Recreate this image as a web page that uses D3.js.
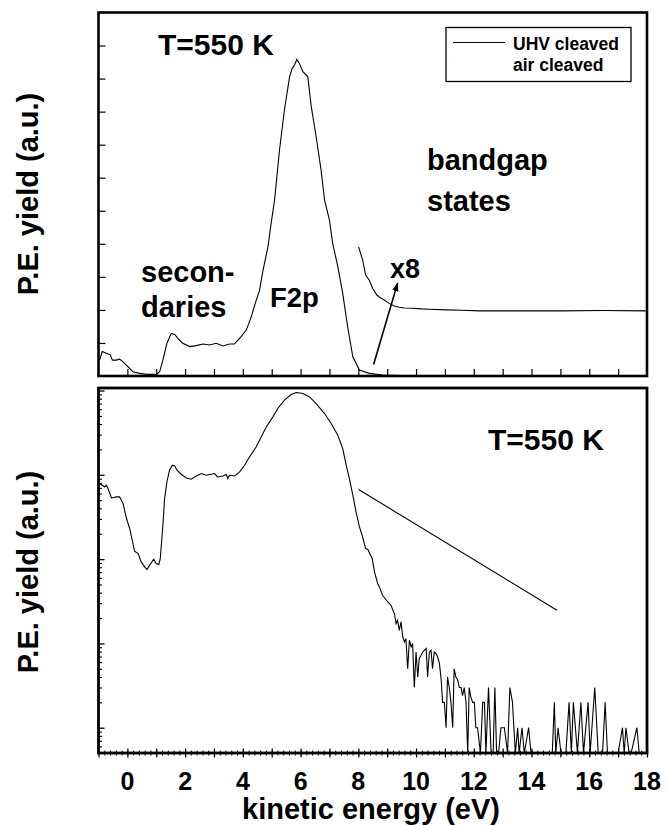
<!DOCTYPE html>
<html>
<head>
<meta charset="utf-8">
<script src="https://cdn.jsdelivr.net/npm/d3@7"></script>
<style>
html,body{margin:0;padding:0;background:#fff;}
svg{display:block;font-family:"Liberation Sans",Arial,Helvetica,sans-serif;}
text{font-weight:bold;fill:#000;}
</style>
</head>
<body>
<svg id="chart" width="667" height="825"></svg>
<script>
// ---------- DATA ----------
// Top panel (linear, arbitrary units): UHV cleaved spectrum
const topEnergy = [-0.96,-0.87,-0.73,-0.59,-0.52,-0.38,-0.27,-0.15,0.02,0.19,0.43,0.66,1.00,1.12,1.23,1.37,1.52,1.64,1.75,1.92,2.16,2.39,2.62,2.85,3.08,3.31,3.54,3.71,3.94,4.12,4.29,4.43,4.58,4.69,4.87,4.98,5.10,5.27,5.44,5.62,5.71,5.79,5.87,5.96,6.08,6.25,6.37,6.54,6.71,6.83,7.00,7.11,7.29,7.46,7.63,7.81,8.04,8.38,8.84,9.5,10,12,14,16,18];
const topYield  = [0.48,0.74,0.69,0.64,0.48,0.48,0.51,0.43,0.28,0.13,0.08,0.05,0.05,0.13,0.48,0.99,1.29,1.26,1.14,0.99,0.89,0.92,0.97,0.94,0.99,0.91,0.97,0.97,1.19,1.39,1.79,2.20,2.60,3.16,3.91,4.62,5.33,6.84,8.05,9.06,9.31,9.41,9.58,9.46,9.21,9.06,8.15,7.24,6.23,5.33,4.72,4.02,3.31,2.50,1.49,0.58,0.18,0.08,0.03,0.01,0,0,0,0,0];
// Top panel: bandgap-state region magnified x8 (offset baseline)
const gapEnergy = [8.01,8.15,8.25,8.38,8.50,8.64,8.79,8.90,9.08,9.25,9.42,9.60,9.88,10.2,10.46,11.04,11.6,12.19,13.5,15,16.5,17.96];
const gapYield  = [3.91,3.51,3.06,2.90,2.65,2.45,2.35,2.30,2.19,2.12,2.08,2.06,2.05,2.03,2.02,2.00,1.99,1.97,1.97,1.97,1.98,1.97];
// Arrow pointing from main curve to x8 curve  [energy, yield]
const arrowFrom = [8.53, 0.35];
const arrowTo   = [9.36, 2.81];

// Bottom panel (log): air cleaved spectrum, counts (0 = below axis)
const botEnergy = [-0.96,-0.87,-0.79,-0.73,-0.67,-0.55,-0.38,-0.27,-0.15,-0.03,0.08,0.25,0.37,0.48,0.60,0.68,0.77,0.91,1.00,1.09,1.14,1.23,1.29,1.37,1.46,1.56,1.64,1.72,1.87,2.04,2.21,2.39,2.56,2.73,3.02,3.13,3.31,3.43,3.48,3.54,3.71,3.89,4.06,4.23,4.46,4.64,4.81,5.04,5.21,5.44,5.67,5.85,6.08,6.31,6.54,6.83,7.06,7.29,7.46,7.58,7.69,7.81,7.92,8.04,8.15,8.25,8.33,8.48,8.56,8.67,8.73,8.84,9.02,9.13,9.25,9.31,9.36,9.42,9.48,9.54,9.60,9.65,9.71,9.77,9.83,9.88,9.94,10.00,10.06,10.11,10.17,10.23,10.29,10.35,10.40,10.46,10.52,10.57,10.63,10.69,10.75,10.81,10.87,10.92,10.98,11.04,11.09,11.15,11.21,11.27,11.32,11.38,11.44,11.50,11.56,11.61,11.67,11.73,11.79,11.84,11.90,11.96,12.02,12.07,12.13,12.23,12.31,12.37,12.42,12.51,12.60,12.67,12.73,12.79,12.86,12.94,13.06,13.17,13.25,13.34,13.44,13.52,13.57,13.67,13.75,13.90,13.98,14.2,14.5,14.72,14.79,14.84,14.92,15.02,15.19,15.30,15.38,15.45,15.59,15.71,15.80,15.96,16.03,16.19,16.31,16.46,16.55,16.63,17.0,17.15,17.21,17.27,17.38,17.45,17.65,17.73,17.81,17.97];
const botCounts = [7890,7530,7180,7530,6870,5320,5470,5470,4570,3030,2310,1240,1165,927,808,753,847,998,887,863,1016,2520,5240,8240,11350,13000,12760,11350,10090,9190,8870,9700,10360,9890,10360,9440,9700,10090,9040,9890,9700,10820,13000,16300,21400,28200,37000,48700,61200,76800,89700,94700,92100,84000,70100,53300,40600,29500,20500,13000,9040,5730,3630,2410,1830,1335,1300,1016,705,514,468,373,310,284,226,172,188,143,180,119,104,114,50,109,91,100,30,79,40,66,72,79,83,87,40,79,83,50,79,76,69,58,37,20,20,10,40,30,20,10,50,40,37,30,30,24,30,20,0,30,23,20,20,10,10,0,20,20,0,30,0,0,30,0,0,10,10,0,30,20,0,10,0,10,0,10,0,0,0,0,20,0,10,0,0,20,0,20,0,20,0,20,0,30,0,0,20,0,0,10,0,10,0,0,10,0,0];
// Bottom panel: straight guide line [energy, counts]
const fitEnergy = [8.01, 14.88];
const fitCounts = [6700, 248];

// Axis tick values / labels
const xTickLabels = [0,2,4,6,8,10,12,14,16,18];
const topYTicks = [1,2,3,4,5,6,7,8,9,10];
const botMajor = [10,100,1000,10000,100000];
const legendLabels = ["UHV cleaved","air cleaved"];

// ---------- LAYOUT ----------
const svg = d3.select("#chart");
const L = 98.5, R = 647;
const topP = {t:12.5, b:376};
const botP = {t:388, b:753};

const x = d3.scaleLinear().domain([-1,18]).range([L,R]);
const yTop = d3.scaleLinear().domain([0,11]).range([topP.b, topP.t]);
const yMin = Math.pow(10,0.70), yMax = Math.pow(10,5.03);
const yBot = d3.scaleLog().domain([yMin,yMax]).range([botP.b, botP.t]);

const defs = svg.append("defs");
defs.append("clipPath").attr("id","clipTop").append("rect")
  .attr("x",L).attr("y",topP.t).attr("width",R-L).attr("height",topP.b-topP.t);
defs.append("clipPath").attr("id","clipBot").append("rect")
  .attr("x",L).attr("y",botP.t).attr("width",R-L).attr("height",botP.b-botP.t);
defs.append("marker").attr("id","arrowHead").attr("viewBox","0 0 10 10")
  .attr("refX",9).attr("refY",5).attr("markerWidth",9).attr("markerHeight",9)
  .attr("markerUnits","userSpaceOnUse").attr("orient","auto")
  .append("path").attr("d","M0,1.5 L10,5 L0,8.5 Z").attr("fill","#000");

function hideDomain(g){ g.select(".domain").remove(); g.selectAll("line").attr("stroke","#000"); g.selectAll("text").remove(); }

// ---------- TOP PANEL ----------
const gTop = svg.append("g");
gTop.append("g").attr("transform",`translate(0,${topP.b})`)
  .call(d3.axisBottom(x).tickValues(d3.range(0,18)).tickSize(-7).tickFormat(""))
  .call(hideDomain).selectAll("line").attr("stroke-width",1.2);
gTop.append("g").attr("transform",`translate(${L},0)`)
  .call(d3.axisLeft(yTop).tickValues(topYTicks).tickSize(-7).tickFormat(""))
  .call(hideDomain).selectAll("line").attr("stroke-width",1.2);

const lineTop = d3.line().x(d=>x(d[0])).y(d=>yTop(d[1]));
const gTopPlot = gTop.append("g").attr("clip-path","url(#clipTop)");
gTopPlot.append("path").datum(topEnergy.map((e,i)=>[e,topYield[i]]))
  .attr("d",lineTop).attr("fill","none").attr("stroke","#000").attr("stroke-width",1.1);
gTopPlot.append("path").datum(gapEnergy.map((e,i)=>[e,gapYield[i]]))
  .attr("d",lineTop).attr("fill","none").attr("stroke","#000").attr("stroke-width",1.1);
gTop.append("line")
  .attr("x1",x(arrowFrom[0])).attr("y1",yTop(arrowFrom[1]))
  .attr("x2",x(arrowTo[0])).attr("y2",yTop(arrowTo[1]))
  .attr("stroke","#000").attr("stroke-width",1.6).attr("marker-end","url(#arrowHead)");

gTop.append("rect").attr("x",L).attr("y",topP.t).attr("width",R-L).attr("height",topP.b-topP.t)
  .attr("fill","none").attr("stroke","#000").attr("stroke-width",2.6);

// legend
const lg = gTop.append("g");
lg.append("rect").attr("x",446).attr("y",27.5).attr("width",185).attr("height",54)
  .attr("fill","#fff").attr("stroke","#000").attr("stroke-width",1.3);
lg.append("line").attr("x1",453).attr("x2",505).attr("y1",42.5).attr("y2",42.5)
  .attr("stroke","#000").attr("stroke-width",1);
lg.append("line").attr("x1",453).attr("x2",454).attr("y1",63.5).attr("y2",63.5)
  .attr("stroke","#ddd").attr("stroke-width",1);
lg.selectAll("text.lg").data(legendLabels).join("text").attr("class","lg")
  .attr("x",513).attr("y",(d,i)=>50+i*21).attr("font-size",17.5).text(d=>d);

gTop.append("text").attr("x",158).attr("y",55).attr("font-size",30).text("T=550 K");
gTop.append("text").attr("x",141).attr("y",282).attr("font-size",29).text("secon-");
gTop.append("text").attr("x",141).attr("y",317).attr("font-size",29).text("daries");
gTop.append("text").attr("x",270).attr("y",307).attr("font-size",27.5).text("F2p");
gTop.append("text").attr("x",427).attr("y",170).attr("font-size",29).text("bandgap");
gTop.append("text").attr("x",427).attr("y",211).attr("font-size",29).text("states");
gTop.append("text").attr("x",390).attr("y",278).attr("font-size",27).text("x8");

// ---------- BOTTOM PANEL ----------
const gBot = svg.append("g");
// x ticks crossing the axis
gBot.append("g").attr("transform",`translate(0,${botP.b})`)
  .call(d3.axisBottom(x).tickValues(d3.range(-1,18.001,0.2)).tickSize(2.5).tickFormat(""))
  .call(hideDomain).selectAll("line").attr("stroke-width",1);
gBot.append("g").attr("transform",`translate(0,${botP.b})`)
  .call(d3.axisBottom(x).tickValues(d3.range(-1,18.001,0.2)).tickSize(-2.5).tickFormat(""))
  .call(hideDomain).selectAll("line").attr("stroke-width",1);
gBot.append("g").attr("transform",`translate(0,${botP.b})`)
  .call(d3.axisBottom(x).tickValues(d3.range(-1,19,1)).tickSize(4.5).tickFormat(""))
  .call(hideDomain).selectAll("line").attr("stroke-width",1.2);
gBot.append("g").attr("transform",`translate(0,${botP.b})`)
  .call(d3.axisBottom(x).tickValues(d3.range(-1,19,1)).tickSize(-4.5).tickFormat(""))
  .call(hideDomain).selectAll("line").attr("stroke-width",1.2);
// y log ticks
const minorVals = [];
[1,10,100,1000,10000].forEach(dec=>{ for(let k=2;k<=9;k++){ const v=dec*k; if(v>=yMin && v<=yMax) minorVals.push(v);} });
gBot.append("g").attr("transform",`translate(${L},0)`)
  .call(d3.axisLeft(yBot).tickValues(minorVals).tickSize(-3.5).tickFormat(""))
  .call(hideDomain).selectAll("line").attr("stroke-width",1.1);
gBot.append("g").attr("transform",`translate(${L},0)`)
  .call(d3.axisLeft(yBot).tickValues(botMajor).tickSize(-6).tickFormat(""))
  .call(hideDomain).selectAll("line").attr("stroke-width",1.3);

const lineBot = d3.line().x(d=>x(d[0])).y(d=>yBot(Math.max(d[1],yMin)));
const gBotPlot = gBot.append("g").attr("clip-path","url(#clipBot)");
gBotPlot.append("path").datum(botEnergy.map((e,i)=>[e,botCounts[i]]))
  .attr("d",lineBot).attr("fill","none").attr("stroke","#000").attr("stroke-width",1.1)
  .attr("stroke-linejoin","miter");
gBotPlot.append("path").datum(fitEnergy.map((e,i)=>[e,fitCounts[i]]))
  .attr("d",lineBot).attr("fill","none").attr("stroke","#000").attr("stroke-width",1.1);

gBot.append("rect").attr("x",L).attr("y",botP.t).attr("width",R-L).attr("height",botP.b-botP.t)
  .attr("fill","none").attr("stroke","#000").attr("stroke-width",2.8);

gBot.append("text").attr("x",488).attr("y",450).attr("font-size",30).text("T=550 K");

// x tick labels
gBot.selectAll("text.xt").data(xTickLabels).join("text").attr("class","xt")
  .attr("x",d=>x(d)).attr("y",790).attr("text-anchor","middle").attr("font-size",25).text(d=>d);
// axis titles
svg.append("text").attr("x",371).attr("y",818.5).attr("text-anchor","middle").attr("font-size",29)
  .text("kinetic energy (eV)");
svg.append("text").attr("transform","translate(37.5,194) rotate(-90)").attr("text-anchor","middle")
  .attr("font-size",29).text("P.E. yield (a.u.)");
svg.append("text").attr("transform","translate(37.5,572) rotate(-90)").attr("text-anchor","middle")
  .attr("font-size",29).text("P.E. yield (a.u.)");
</script>
</body>
</html>
